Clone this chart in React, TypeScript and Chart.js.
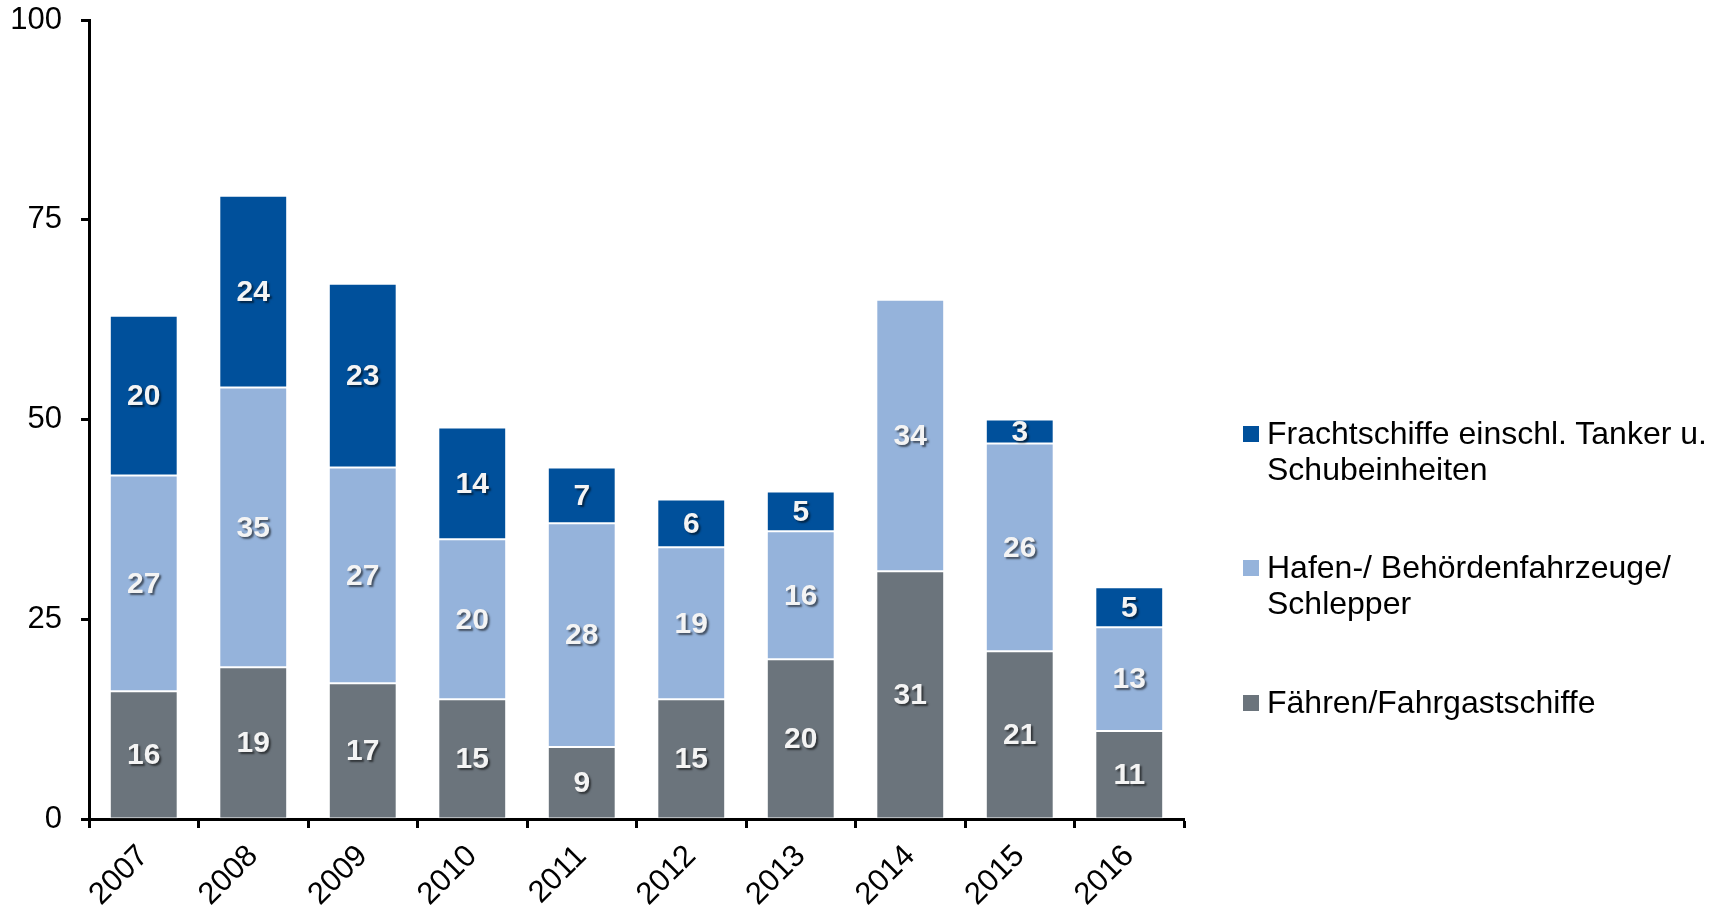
import React, { useEffect, useRef } from "react";
import { Chart, registerables } from "chart.js";

Chart.register(...registerables);

const categories = ["2007", "2008", "2009", "2010", "2011", "2012", "2013", "2014", "2015", "2016"];
const faehren = [16, 19, 17, 15, 9, 15, 20, 31, 21, 11];
const hafen = [27, 35, 27, 20, 28, 19, 16, 34, 26, 13];
const fracht = [20, 24, 23, 14, 7, 6, 5, 0, 3, 5];
const yTicks = [0, 25, 50, 75, 100];

const seriesNames = [
  ["Frachtschiffe einschl. Tanker u.", "Schubeinheiten"],
  ["Hafen-/ Behördenfahrzeuge/", "Schlepper"],
  ["Fähren/Fahrgastschiffe"],
];

const C_DARK = "#00509B";
const C_LIGHT = "#95B3DB";
const C_GRAY = "#6B747C";
const FONT = "'Liberation Sans', Arial, sans-serif";

const labelPlugin = {
  id: "segLabels",
  afterDatasetsDraw(chart: any) {
    const ctx = chart.ctx;
    ctx.save();
    ctx.font = `bold 30px ${FONT}`;
    ctx.textAlign = "center";
    ctx.textBaseline = "middle";
    ctx.fillStyle = "#F4F4F4";
    ctx.shadowColor = "rgba(0,0,0,0.55)";
    ctx.shadowOffsetX = 2;
    ctx.shadowOffsetY = 2;
    ctx.shadowBlur = 2;
    chart.data.datasets.forEach((ds: any, i: number) => {
      const meta = chart.getDatasetMeta(i);
      meta.data.forEach((el: any, j: number) => {
        const v = ds.data[j];
        if (!v) return;
        const p = el.getProps(["x", "y", "base"], true);
        ctx.fillText(String(v), p.x, (p.y + p.base) / 2 + 1);
      });
    });
    ctx.restore();
  },
};

export default function App() {
  const ref = useRef<HTMLCanvasElement>(null);
  useEffect(() => {
    if (!ref.current) return;
    const chart = new Chart(ref.current, {
      type: "bar",
      data: {
        labels: categories,
        datasets: [
          { label: seriesNames[2].join(" "), data: faehren, backgroundColor: C_GRAY, borderColor: "rgba(255,255,255,0.35)", borderWidth: 1, borderSkipped: false },
          { label: seriesNames[1].join(" "), data: hafen, backgroundColor: C_LIGHT, borderColor: "rgba(255,255,255,0.35)", borderWidth: 1, borderSkipped: false },
          { label: seriesNames[0].join(" "), data: fracht, backgroundColor: C_DARK, borderColor: "rgba(255,255,255,0.35)", borderWidth: 1, borderSkipped: false },
        ],
      },
      options: {
        responsive: false,
        animation: false,
        layout: { padding: { left: 0, right: 543, top: 20, bottom: 0 } },
        datasets: { bar: { categoryPercentage: 0.62, barPercentage: 1 } },
        plugins: { legend: { display: false }, tooltip: { enabled: false } },
        scales: {
          x: {
            stacked: true,
            grid: { display: true, drawOnChartArea: false, offset: true, tickLength: 9, tickWidth: 3, color: "#000" },
            border: { display: true, color: "#000", width: 3 },
            ticks: { color: "#000", font: { family: FONT, size: 31 }, minRotation: 45, maxRotation: 45, padding: 10 },
            afterFit(scale: any) { scale.height = 93; scale.paddingLeft = 0; scale.paddingRight = 0; },
          },
          y: {
            stacked: true,
            min: 0,
            max: 100,
            afterBuildTicks(scale: any) { scale.ticks = yTicks.map((v) => ({ value: v })); },
            grid: { display: true, drawOnChartArea: false, tickLength: 8, tickWidth: 3, color: "#000" },
            border: { display: true, color: "#000", width: 3 },
            ticks: { color: "#000", font: { family: FONT, size: 31 }, padding: 19 },
            afterFit(scale: any) { scale.width = 89; scale.paddingTop = 0; scale.paddingBottom = 0; },
          },
        },
      },
      plugins: [labelPlugin],
    });
    return () => chart.destroy();
  }, []);

  const legendColors = [C_DARK, C_LIGHT, C_GRAY];
  const legendTops = [415, 549, 684];

  return (
    <div style={{ position: "absolute", left: 0, top: 0, width: 1727, height: 912, background: "#fff" }}>
      <canvas ref={ref} width={1727} height={912} style={{ position: "absolute", left: 0, top: 0 }} />
      {seriesNames.map((lines, i) => (
        <div key={i} style={{ position: "absolute", left: 1243, top: legendTops[i], fontFamily: FONT, fontSize: 32, lineHeight: "36px", color: "#000" }}>
          <div style={{ position: "absolute", left: 0, top: 11, width: 16, height: 16, background: legendColors[i] }} />
          <div style={{ marginLeft: 24, whiteSpace: "nowrap" }}>
            {lines.map((t, k) => (
              <div key={k}>{t}</div>
            ))}
          </div>
        </div>
      ))}
    </div>
  );
}
